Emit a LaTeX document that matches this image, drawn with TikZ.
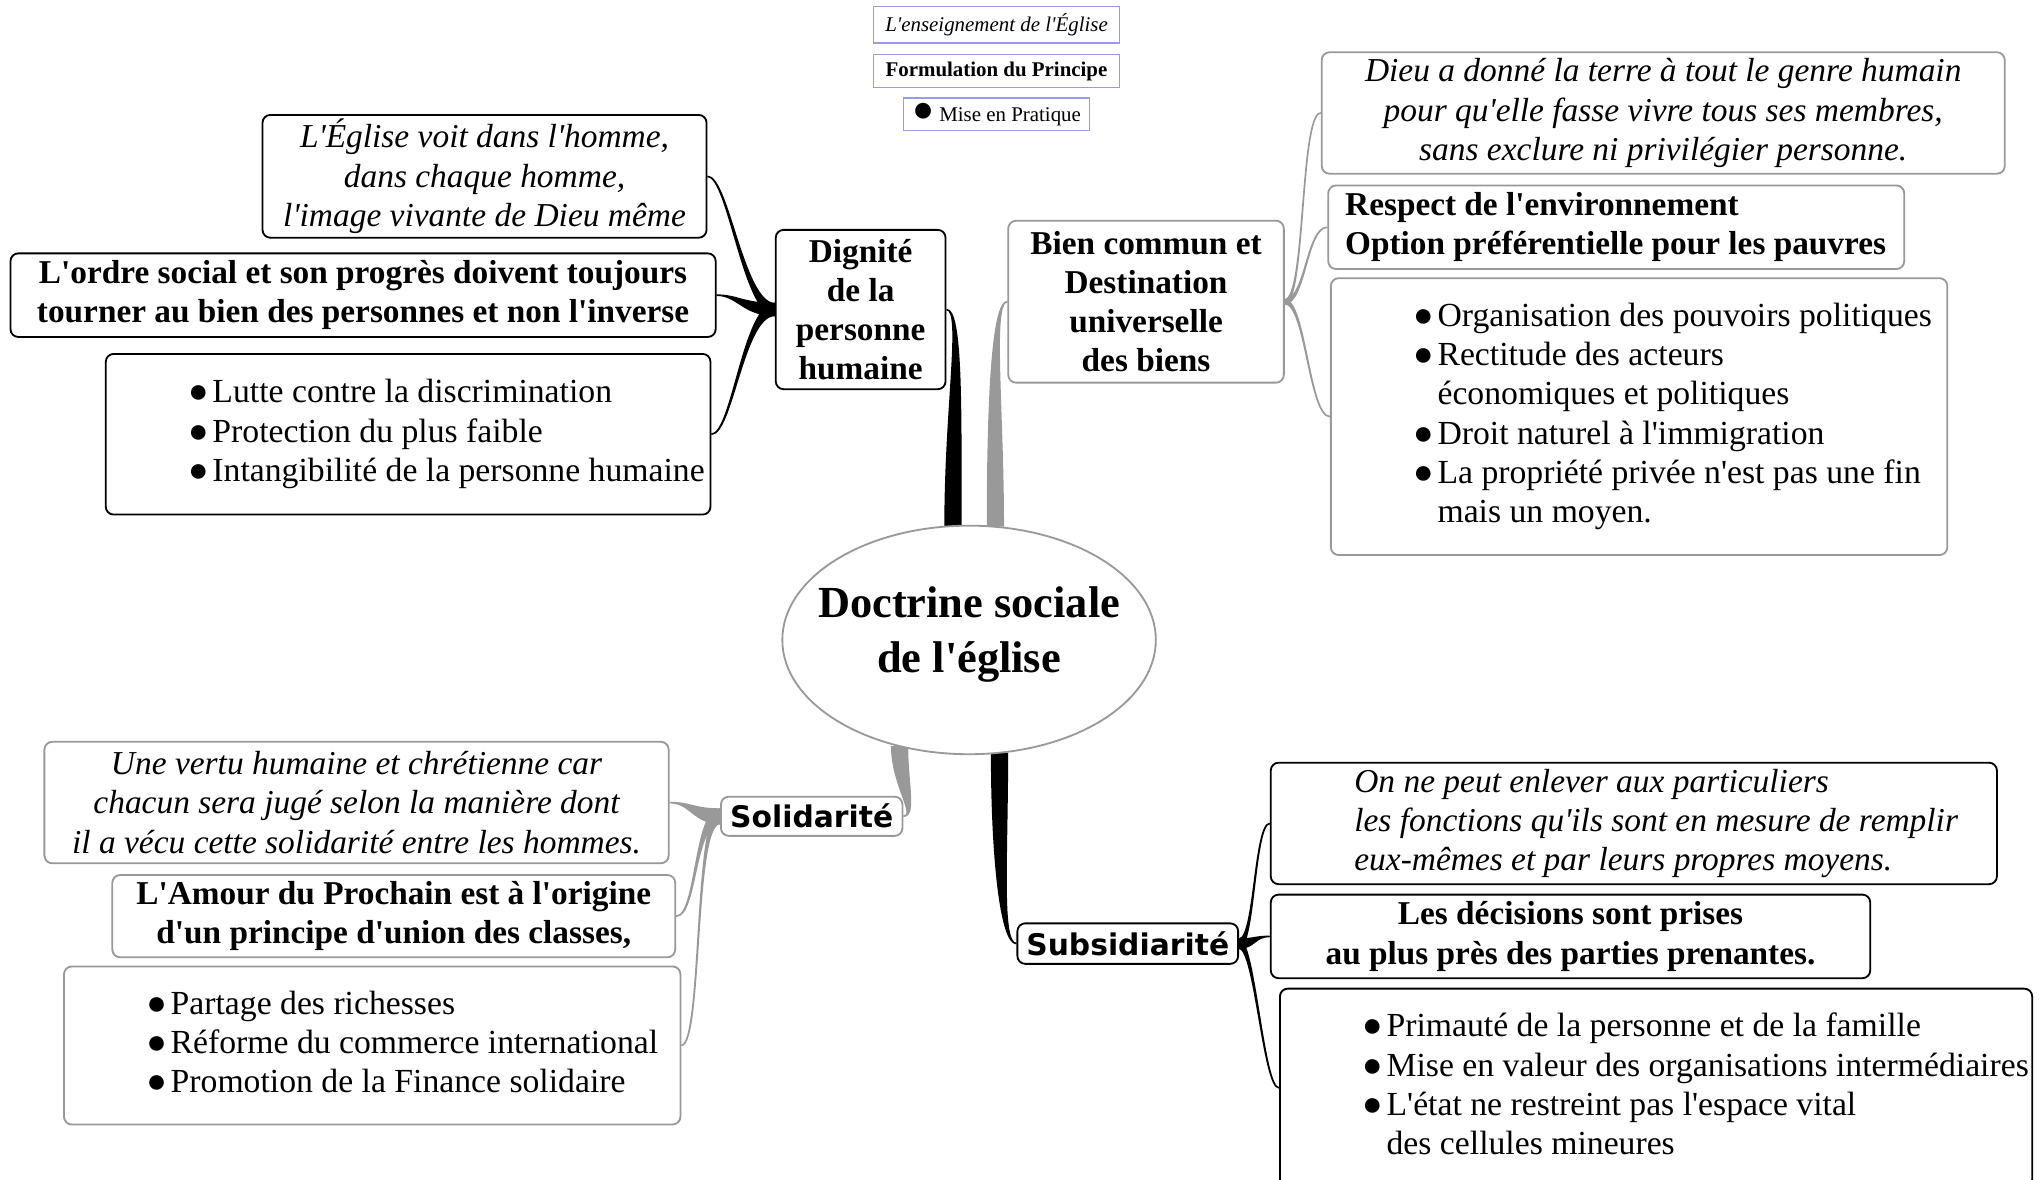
\documentclass[tikz,border=0pt]{standalone}
\usepackage{fontspec}
\setmainfont{Liberation Serif}[Ligatures=TeXOff]
\newfontfamily\dejavu{DejaVu Sans}
\usetikzlibrary{shapes.geometric,calc,backgrounds}

\definecolor{branchgray}{HTML}{999999}
\definecolor{legblue}{HTML}{9A9AE6}

\newcommand{\bul}{{\fontsize{13}{13}\selectfont ●}\hspace{1.5pt}}
\newcommand{\padl}[3]{\makebox[#1][l]{\hspace{#2}\begin{tabular}{@{}l@{}}#3\end{tabular}}}
% tapering branch: colour, from, to, out, in, half width, out distance, in distance
\newcommand{\branch}[8]{\path[fill=#1,draw=#1,line width=0.6pt] ($(#2)+({#6*sin(#4)},{#6*cos(#4)})$) to[out=#4,in=#5,out distance=#7,in distance=#8] (#3)
  to[out=#5,in=#4,out distance=#8,in distance=#7] ($(#2)-({#6*sin(#4)},{#6*cos(#4)})$) -- cycle;}

\begin{document}
\begin{tikzpicture}[x=0.5pt,y=-0.5pt,
  dbox/.style={draw=black,line width=0.7pt,rounded corners=3pt,fill=white,inner sep=0pt},
  gbox/.style={draw=branchgray,line width=0.7pt,rounded corners=3pt,fill=white,inner sep=0pt},
  lgbox/.style={draw=legblue,line width=0.5pt,fill=white,inner sep=0pt},
  rmtxt/.style={font=\fontsize{12.9}{15}\selectfont},
  ittxt/.style={font=\fontsize{12.8}{15}\selectfont\itshape,align=center},
  bftxt/.style={font=\fontsize{12.75}{15}\selectfont\bfseries,align=center},
  sftxt/.style={font=\fontsize{11.4}{13}\selectfont\dejavu\bfseries}]
\path[use as bounding box] (0,0) rectangle (1562,903);

% legend
\node[lgbox,minimum width=94pt,minimum height=14pt,font=\fontsize{8}{9}\selectfont\itshape] (leg1) at (763,19) {L'enseignement de l'Église};
\node[lgbox,minimum width=94pt,minimum height=12.5pt,font=\fontsize{8}{9}\selectfont\bfseries] (leg2) at (763,54.5) {Formulation du Principe};
\node[lgbox,minimum width=71pt,minimum height=12.5pt,font=\fontsize{8}{9}\selectfont] (leg3) at (763,87.5) {{\fontsize{14}{14}\selectfont ●} Mise en Pratique};

% centre
\node[ellipse,draw=branchgray,line width=0.7pt,fill=white,minimum width=143pt,minimum height=87.5pt,inner sep=0pt,
  font=\fontsize{17}{21}\selectfont\bfseries] (root) at (742,490)
  {\makebox[90pt]{\raisebox{-2pt}[0pt][0pt]{\begin{tabular}{@{}c@{}}Doctrine sociale\\de l'église\end{tabular}}}};

% Dignite
\node[dbox,bftxt,minimum width=65pt,minimum height=61pt] (dig) at (659,237) {Dignité\\de la\\personne\\humaine};
\node[dbox,ittxt,minimum width=170pt,minimum height=47pt] (digA) at (371,135) {L'Église voit dans l'homme,\\dans chaque homme,\\l'image vivante de Dieu même};
\node[dbox,bftxt,minimum width=270pt,minimum height=32pt] (digB) at (278,226) {L'ordre social et son progrès doivent toujours\\tourner au bien des personnes et non l'inverse};
\node[dbox,rmtxt,minimum height=61.5pt] (digC) at (312.5,332.5) {\padl{231.5pt}{31.5pt}{\bul Lutte contre la discrimination\\\bul Protection du plus faible\\\bul Intangibilité de la personne humaine}};

% Bien commun
\node[gbox,bftxt,minimum width=105.5pt,minimum height=62pt] (bien) at (877.5,231) {Bien commun et\\Destination\\universelle\\des biens};
\node[gbox,ittxt,minimum width=261.5pt,minimum height=46.5pt] (bienA) at (1273.5,86.5) {Dieu a donné la terre à tout le genre humain\\pour qu'elle fasse vivre tous ses membres,\\sans exclure ni privilégier personne.};
\node[gbox,bftxt,minimum height=32pt] (bienB) at (1237.5,174) {\padl{220.5pt}{6.5pt}{Respect de l'environnement\\Option préférentielle pour les pauvres}};
\node[gbox,rmtxt,minimum height=106pt] (bienC) at (1255,319) {\padl{236pt}{31.5pt}{\bul Organisation des pouvoirs politiques\\\bul Rectitude des acteurs\\\phantom{\bul}économiques et politiques\\\bul Droit naturel à l'immigration\\\bul La propriété privée n'est pas une fin\\\phantom{\bul}mais un moyen.}};

% Solidarite
\node[gbox,sftxt,minimum width=69.5pt,minimum height=15pt] (sol) at (621.5,625) {Solidarité};
\node[gbox,ittxt,minimum width=239pt,minimum height=46.5pt] (solA) at (273,614.5) {Une vertu humaine et chrétienne car\\chacun sera jugé selon la manière dont\\il a vécu cette solidarité entre les hommes.};
\node[gbox,bftxt,minimum width=215.5pt,minimum height=31.5pt] (solB) at (301.5,701.5) {L'Amour du Prochain est à l'origine\\d'un principe d'union des classes,};
\node[gbox,rmtxt,minimum height=60.5pt] (solC) at (285,800.5) {\padl{236pt}{31.5pt}{\bul Partage des richesses\\\bul Réforme du commerce international\\\bul Promotion de la Finance solidaire}};

% Subsidiarite
\node[dbox,sftxt,minimum width=84.5pt,minimum height=15.5pt] (sub) at (863.5,722.5) {Subsidiarité};
\node[dbox,font=\fontsize{12.8}{15}\selectfont\itshape,minimum height=46.5pt] (subA) at (1251,630.5) {\padl{278pt}{32pt}{On ne peut enlever aux particuliers\\les fonctions qu'ils sont en mesure de remplir\\eux-mêmes et par leurs propres moyens.}};
\node[dbox,bftxt,minimum width=229.5pt,minimum height=32pt] (subB) at (1202.5,717) {Les décisions sont prises\\au plus près des parties prenantes.};
\node[dbox,rmtxt,minimum height=76pt] (subC) at (1268,833) {\padl{288pt}{31.5pt}{\bul Primauté de la personne et de la famille\\\bul Mise en valeur des organisations intermédiaires\\\bul L'état ne restreint pas l'espace vital\\\phantom{\bul}des cellules mineures}};

\begin{scope}[on background layer]
\fill[white] (0,0) rectangle (1562,903);
\branch{black}{root.98}{dig.east}{90}{0}{6}{45pt}{6pt}
\branch{branchgray}{root.77}{bien.west}{90}{180}{6}{45pt}{6pt}
\branch{black}{root.285}{sub.west}{270}{180}{6}{40pt}{6pt}
\branch{branchgray}{root.237}{sol.east}{270}{0}{6}{14pt}{5pt}
\foreach \c in {digA,digB,digC} {\branch{black}{dig.west}{\c.east}{180}{0}{4.5}{12pt}{8pt}}
\foreach \c in {bienA,bienB,bienC} {\branch{branchgray}{bien.east}{\c.west}{0}{180}{1.5}{8pt}{8pt}}
\foreach \c in {solA,solB,solC} {\branch{branchgray}{sol.west}{\c.east}{180}{0}{5.5}{10pt}{8pt}}
\foreach \c in {subA,subB,subC} {\branch{black}{sub.east}{\c.west}{0}{180}{3.5}{6pt}{6pt}}
\end{scope}
\end{tikzpicture}
\end{document}
